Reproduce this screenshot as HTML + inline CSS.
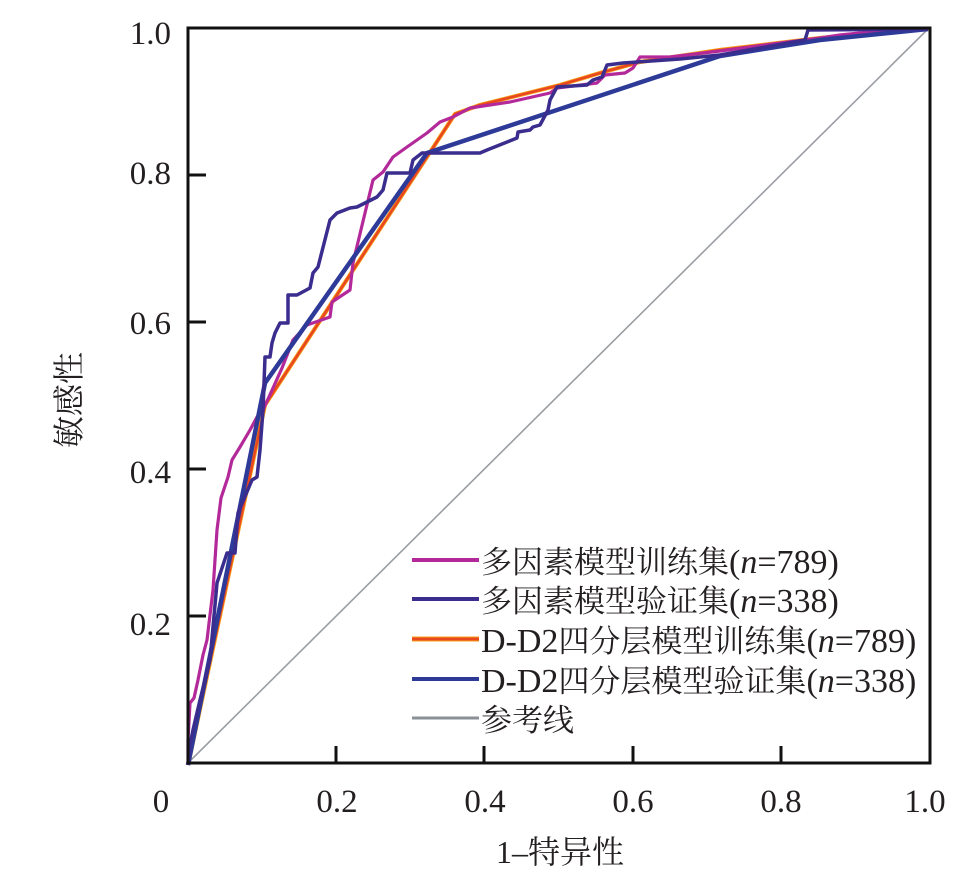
<!DOCTYPE html>
<html>
<head>
<meta charset="utf-8">
<style>
html,body{margin:0;padding:0;background:#fff;}
svg{display:block;}
text{font-family:"Liberation Serif","Noto Serif CJK SC",serif;fill:#231f20;}
</style>
</head>
<body>
<svg width="976" height="880" viewBox="0 0 976 880" xmlns="http://www.w3.org/2000/svg">
<rect width="976" height="880" fill="#fff"/>

<!-- reference line -->
<line x1="188" y1="763" x2="928" y2="29" stroke="#9a9ea3" stroke-width="1.6"/>

<!-- D-D2 training (orange) -->
<polyline fill="none" stroke="#f7a21b" stroke-width="4.2" stroke-linejoin="round"
 points="188,765 265,405 455,114 480,105 520,95 560,85 600,73 640,62 720,50 820,38 928,29"/>
<polyline fill="none" stroke="#e9471e" stroke-width="2.6" stroke-linejoin="round"
 points="188,765 265,405 455,114 480,105 520,95 560,85 600,73 640,62 720,50 820,38 928,29"/>

<!-- multi-factor training (magenta) -->
<polyline fill="none" stroke="#b3299a" stroke-width="3.2" stroke-linejoin="round"
 points="188,765 188,740 190,703 194,698 198,680 203,655 207,640 213,590 217,530 221,498 228,477 232,460 240,447 250,430 257,417 263,410 273,388 282,368 293,340 307,325 330,317 332,302 350,290 353,263 365,213 373,180 383,172 393,157 407,147 427,133 440,122 453,117 470,108 510,102 550,93 557,88 597,83 605,75 625,73 633,68 640,57 670,57 720,51 780,43 820,38 840,35 880,31 928,29"/>

<!-- D-D2 validation (blue) -->
<polyline fill="none" stroke="#2e3a98" stroke-width="4.5" stroke-linejoin="round"
 points="188,765 265,383 427,153 720,56 820,40 928,29"/>

<!-- multi-factor validation (indigo) -->
<polyline fill="none" stroke="#3a2d8e" stroke-width="3.5" stroke-linejoin="round"
 points="188,765 190,745 193,730 200,700 210,660 217,583 227,553 235,553 238,513 252,480 257,477 260,450 263,410 265,357 270,357 272,343 275,333 280,323 288,323 288,295 297,295 310,288 313,273 318,267 330,220 337,213 350,208 357,207 377,197 383,190 387,173 410,173 413,160 422,153 480,153 487,150 517,138 518,132 530,130 533,127 540,125 548,110 550,100 557,87 587,85 593,80 602,77 607,65 623,63 680,59 720,55 760,48 805,40 808,30 928,29"/>

<!-- frame -->
<rect x="188" y="28" width="742" height="735" fill="none" stroke="#111" stroke-width="3"/>

<!-- y ticks -->
<g stroke="#111" stroke-width="3">
<line x1="188" y1="175" x2="206" y2="175"/>
<line x1="188" y1="322" x2="206" y2="322"/>
<line x1="188" y1="469" x2="206" y2="469"/>
<line x1="188" y1="616" x2="206" y2="616"/>
<!-- x ticks -->
<line x1="336" y1="763" x2="336" y2="746"/>
<line x1="484" y1="763" x2="484" y2="746"/>
<line x1="633" y1="763" x2="633" y2="746"/>
<line x1="781" y1="763" x2="781" y2="746"/>
</g>

<!-- y tick labels -->
<g font-size="33" text-anchor="end">
<text x="171" y="44">1.0</text>
<text x="171" y="184">0.8</text>
<text x="171" y="334">0.6</text>
<text x="171" y="483">0.4</text>
<text x="171" y="635">0.2</text>
</g>

<!-- x tick labels -->
<g font-size="33" text-anchor="middle">
<text x="161" y="812">0</text>
<text x="337" y="812">0.2</text>
<text x="485" y="812">0.4</text>
<text x="633" y="812">0.6</text>
<text x="781" y="812">0.8</text>
<text x="925" y="812">1.0</text>
</g>

<!-- axis titles -->
<text x="560" y="863" font-size="32" text-anchor="middle">1–特异性</text>
<text transform="translate(80,400) rotate(-90)" font-size="32" text-anchor="middle">敏感性</text>

<!-- legend -->
<g stroke-width="4">
<line x1="412" y1="560" x2="479" y2="560" stroke="#b3299a"/>
<line x1="412" y1="599" x2="479" y2="599" stroke="#3a2d8e"/>
<line x1="412" y1="639" x2="479" y2="639" stroke="#f7a21b" stroke-width="5"/>
<line x1="412" y1="639" x2="479" y2="639" stroke="#e9471e" stroke-width="3"/>
<line x1="412" y1="679" x2="479" y2="679" stroke="#2e3a98"/>
<line x1="412" y1="718" x2="479" y2="718" stroke="#8a9096" stroke-width="3"/>
</g>
<g font-size="31">
<text x="481" y="573">多因素模型训练集<tspan font-size="34">(<tspan font-style="italic">n</tspan>=789)</tspan></text>
<text x="481" y="612">多因素模型验证集<tspan font-size="34">(<tspan font-style="italic">n</tspan>=338)</tspan></text>
<text x="481" y="652"><tspan font-size="34">D-D2</tspan>四分层模型训练集<tspan font-size="34">(<tspan font-style="italic">n</tspan>=789)</tspan></text>
<text x="481" y="692"><tspan font-size="34">D-D2</tspan>四分层模型验证集<tspan font-size="34">(<tspan font-style="italic">n</tspan>=338)</tspan></text>
<text x="481" y="731">参考线</text>
</g>
</svg>
</body>
</html>
